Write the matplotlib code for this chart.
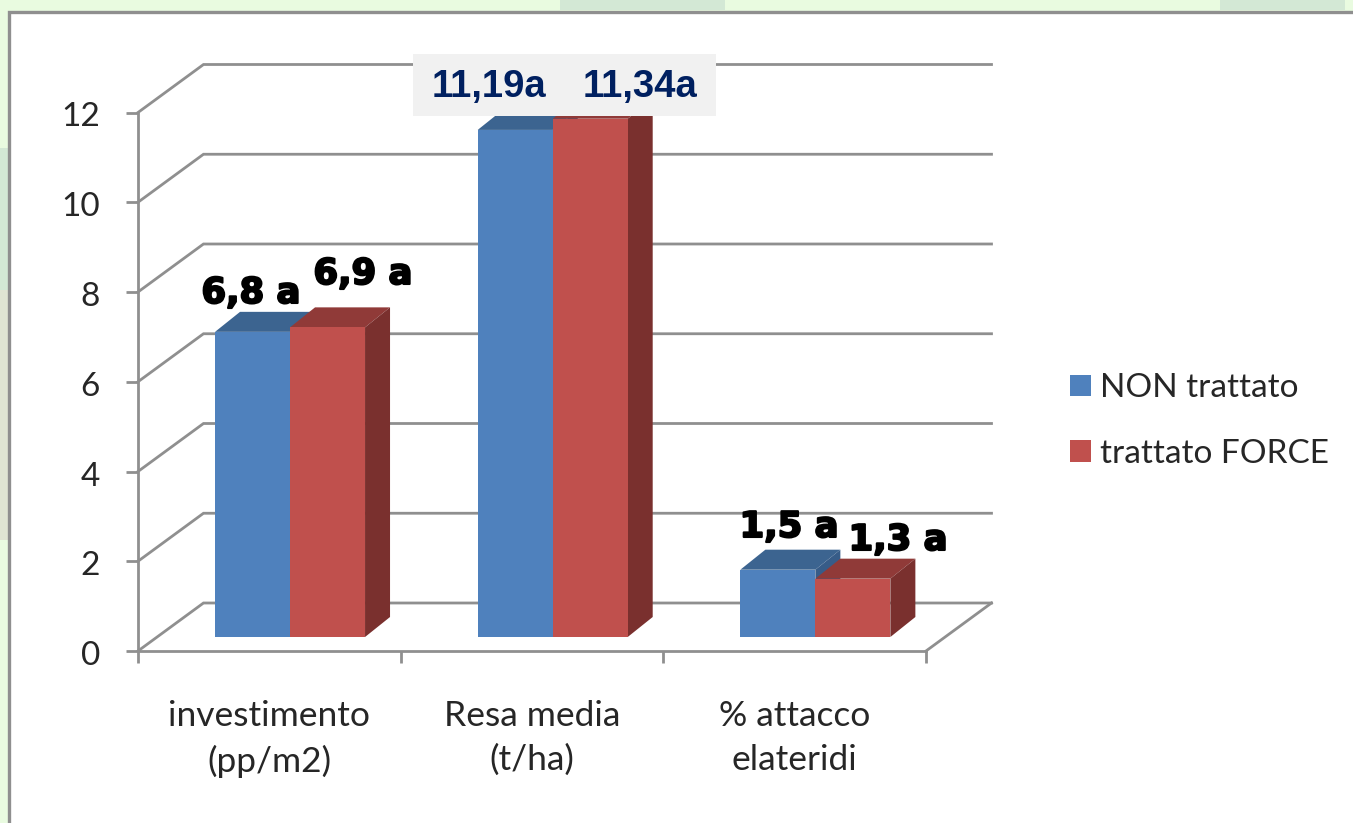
"""Grafico a barre pseudo-3D: NON trattato vs trattato FORCE"""

import matplotlib
matplotlib.use('Agg')
import matplotlib.pyplot as plt
import matplotlib.patheffects as path_effects
from matplotlib.patches import Polygon, Rectangle, Patch
from matplotlib.transforms import ScaledTranslation

# dati
categories = ['investimento\n(pp/m2)', 'Resa media\n(t/ha)', '% attacco\nelateridi']
non_trattato = [6.8, 11.3, 1.5]
trattato = [6.9, 11.55, 1.3]
series_names = ['NON trattato', 'trattato FORCE']
y_ticks = [0, 2, 4, 6, 8, 10, 12]
labels_black = ['6,8 a', '6,9 a', '1,5 a', '1,3 a']
labels_blue = ['11,19a', '11,34a']

W, H = 1353, 823
GRAY = '#8f8f8f'
BLUE = ('#4f81bd', '#3c6490', '#375c88')
RED = ('#c0504d', '#903a38', '#7a302e')

fig = plt.figure(figsize=(W / 100, H / 100), dpi=100, facecolor='#e9fbe0')

# sfondo e cornice, in pixel
bg = fig.add_axes([0, 0, 1, 1], zorder=0)
bg.set_xlim(0, W)
bg.set_ylim(H, 0)
bg.axis('off')
for x, y, w, h, c in [(0, 148, 8, 142, '#d3e8d5'), (0, 290, 8, 250, '#dfe4d3'),
                      (560, 0, 165, 10, '#d3e8d5'), (1220, 0, 125, 10, '#d3e8d5')]:
    bg.add_patch(Rectangle((x, y), w, h, facecolor=c, edgecolor='none'))
bg.add_patch(Rectangle((9, 12), W + 20, H + 20, facecolor='white', edgecolor=GRAY, linewidth=2.4))

# asse principale: piano frontale del grafico
X0, X1, Y0, Y12 = 138, 926, 651, 112.5
ax = fig.add_axes([X0 / W, 1 - Y0 / H, (X1 - X0) / W, (Y0 - Y12) / H], zorder=1)
ax.patch.set_alpha(0)
ax.set_xlim(-0.5, 2.5)
ax.set_ylim(0, 12)
DX = 3 / (X1 - X0)   # unita dati per pixel
DY = 12 / (Y0 - Y12)

for s in ['top', 'right']:
    ax.spines[s].set_visible(False)
for s in ['left', 'bottom']:
    ax.spines[s].set_color(GRAY)
    ax.spines[s].set_linewidth(2.0)

ax.set_yticks(y_ticks)
ax.set_xticks([-0.5, 0.5, 1.5, 2.5])
ax.set_xticklabels([])
ax.set_xticks(range(len(categories)), labels=categories, minor=True)
ax.tick_params(axis='y', length=8.5, width=2.0, color=GRAY, labelsize=24, pad=19, labelcolor='#262626')
ax.tick_params(axis='x', which='major', length=8.5, width=2.0, color=GRAY)
ax.tick_params(axis='x', which='minor', length=0, labelsize=25.5, pad=35, labelcolor='#262626')
for t in ax.get_xticklabels(minor=True):
    t.set_linespacing(1.47)
for t in ax.get_yticklabels() + ax.get_xticklabels(minor=True):
    t.set_family('Lato')
for t in ax.get_yticklabels():
    t.set_transform(t.get_transform() + ScaledTranslation(0, -2 / 100, fig.dpi_scale_trans))

# pareti: griglia con profondita
wx, wy = 65.5 * DX, 48 * DY
for v in y_ticks:
    ax.plot([-0.5, -0.5 + wx, 2.5 + wx], [v, v + wy, v + wy], color=GRAY, lw=2.0,
            clip_on=False, zorder=1, solid_joinstyle='miter')
ax.plot([2.5, 2.5 + wx], [0, wy], color=GRAY, lw=2.0, clip_on=False, zorder=1)


def bar3d(x, w, v, cols):
    """Barra con faccia frontale, superiore e laterale"""
    bx, by = 20.7 * DX, 14 * DY
    dx, dy = 25 * DX, 20 * DY
    l, r, b, t = x + bx, x + w + bx, by, v + by
    ax.add_patch(Polygon([(l, t), (r, t), (r + dx, t + dy), (l + dx, t + dy)],
                         facecolor=cols[1], edgecolor='none', clip_on=False, zorder=3))
    ax.add_patch(Polygon([(r, b), (r + dx, b + dy), (r + dx, t + dy), (r, t)],
                         facecolor=cols[2], edgecolor='none', clip_on=False, zorder=3))
    ax.add_patch(Polygon([(l, b), (r, b), (r, t), (l, t)],
                         facecolor=cols[0], edgecolor='none', clip_on=False, zorder=3))


bw = 75 * DX
for i in range(len(categories)):
    bar3d(i - bw, bw, non_trattato[i], BLUE)
    bar3d(i, bw, trattato[i], RED)

# legenda
leg = ax.legend(handles=[Patch(facecolor=BLUE[0], label=series_names[0]),
                         Patch(facecolor=RED[0], label=series_names[1])],
                loc='center left', bbox_to_anchor=((1070 - X0) / (X1 - X0), (Y0 - 421) / (Y0 - Y12)),
                frameon=False, handlelength=0.63, handleheight=0.63,
                handletextpad=0.27, labelspacing=1.07, borderpad=0, borderaxespad=0,
                labelcolor='#262626', prop={'family': 'Lato', 'size': 24})

# etichette sovrapposte, in pixel
top = fig.add_axes([0, 0, 1, 1], zorder=2)
top.patch.set_alpha(0)
top.set_xlim(0, W)
top.set_ylim(H, 0)
top.axis('off')
for txt, x, y in zip(labels_black, [251, 363, 789, 898], [293, 274, 527, 540]):
    t = top.text(x, y, txt, ha='center', va='center', fontsize=25.5, fontweight='bold',
                 family='DejaVu Sans', color='black')
    t.set_path_effects([path_effects.withStroke(linewidth=1.5, foreground='black')])
top.add_patch(Rectangle((413, 54), 303, 62, facecolor='#f1f1f1', edgecolor='none'))
for txt, x in zip(labels_blue, [489, 640]):
    top.text(x, 87, txt, ha='center', va='center', fontsize=27.5, fontweight='bold',
             family='Liberation Sans', color='#002060')

plt.savefig('out.png', dpi=100, facecolor=fig.get_facecolor())
plt.close()
